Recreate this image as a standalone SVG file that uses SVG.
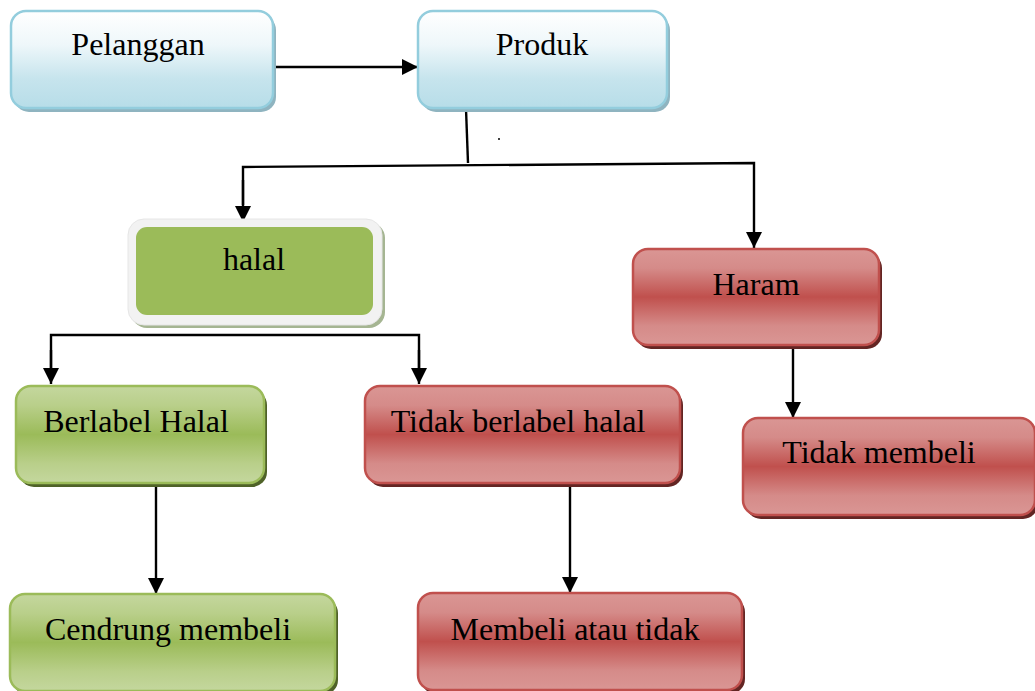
<svg xmlns="http://www.w3.org/2000/svg" width="1035" height="691" viewBox="0 0 1035 691">
  <defs>
    <linearGradient id="gBlue" x1="0" y1="0" x2="0" y2="1">
      <stop offset="0" stop-color="#ffffff"/>
      <stop offset="0.35" stop-color="#eef7fa"/>
      <stop offset="0.7" stop-color="#c6e4ed"/>
      <stop offset="1" stop-color="#b7dde8"/>
    </linearGradient>
    <linearGradient id="gGreen" x1="0" y1="0" x2="0" y2="1">
      <stop offset="0" stop-color="#c4d79e"/>
      <stop offset="0.2" stop-color="#b9cf8a"/>
      <stop offset="0.5" stop-color="#9bbb59"/>
      <stop offset="0.8" stop-color="#b9cf8a"/>
      <stop offset="1" stop-color="#c4d79e"/>
    </linearGradient>
    <linearGradient id="gRed" x1="0" y1="0" x2="0" y2="1">
      <stop offset="0" stop-color="#da9694"/>
      <stop offset="0.2" stop-color="#d58b89"/>
      <stop offset="0.5" stop-color="#c0504d"/>
      <stop offset="0.8" stop-color="#d58b89"/>
      <stop offset="1" stop-color="#da9694"/>
    </linearGradient>
    <marker id="arrow" viewBox="0 0 10 10" refX="10" refY="5" markerWidth="17" markerHeight="16" markerUnits="userSpaceOnUse" orient="auto">
      <path d="M0,0 L10,5 L0,10 Z" fill="#000"/>
    </marker>
  </defs>
  <style>
    text { font-family: "Liberation Serif", "Times New Roman", serif; font-size: 32px; fill: #000; text-anchor: middle; }
    .blue { fill: url(#gBlue); stroke: #93cddd; stroke-width: 2.5; }
    .blueShadow { fill: #8fb4c0; }
    .green { fill: url(#gGreen); stroke: #9bbb59; stroke-width: 2.5; }
    .greenShadow { fill: #4f6228; }
    .red { fill: url(#gRed); stroke: #c0504d; stroke-width: 2.5; }
    .redShadow { fill: #632523; }
    .conn { fill: none; stroke: #000; stroke-width: 2.4; }
  </style>

  <rect width="1035" height="691" fill="#ffffff"/>

  <!-- connectors -->
  <g id="connectors">
    <line class="conn" x1="274" y1="67" x2="418" y2="67" marker-end="url(#arrow)"/>
    <line class="conn" x1="466" y1="109" x2="468" y2="163"/>
    <polyline class="conn" points="243,205 243,167 754,163 754,248" marker-end="url(#arrow)"/>
    <line class="conn" x1="243" y1="180" x2="243" y2="222" marker-end="url(#arrow)"/>
    <polyline class="conn" points="51,370 51,335 419,335 419,370"/>
    <line class="conn" x1="51" y1="350" x2="51" y2="384" marker-end="url(#arrow)"/>
    <line class="conn" x1="419" y1="350" x2="419" y2="384" marker-end="url(#arrow)"/>
    <line class="conn" x1="793" y1="348" x2="793" y2="418" marker-end="url(#arrow)"/>
    <line class="conn" x1="156" y1="485" x2="156" y2="594" marker-end="url(#arrow)"/>
    <line class="conn" x1="570" y1="485" x2="570" y2="593" marker-end="url(#arrow)"/>
    <circle cx="499" cy="139" r="1" fill="#000"/>
  </g>

  <g id="pelanggan">
    <rect class="blueShadow" x="14" y="15" width="262" height="97" rx="15"/>
    <rect class="blue" x="11" y="11" width="262" height="97" rx="15"/>
    <text x="138" y="55">Pelanggan</text>
  </g>

  <g id="produk">
    <rect class="blueShadow" x="421" y="15" width="249" height="97" rx="15"/>
    <rect class="blue" x="418" y="11" width="249" height="97" rx="15"/>
    <text x="542" y="55">Produk</text>
  </g>

  <g id="halal">
    <rect x="131" y="222" width="254" height="106" rx="16" fill="#a5b592"/>
    <rect x="128" y="219" width="254" height="106" rx="16" fill="#f2f2f2" stroke="#e6e6e6" stroke-width="1"/>
    <rect x="136" y="227" width="237" height="88" rx="11" fill="#9bbb59"/>
    <text x="254" y="270">halal</text>
  </g>

  <g id="haram">
    <rect class="redShadow" x="636" y="253" width="246" height="96" rx="15"/>
    <rect class="red" x="633" y="249" width="246" height="96" rx="15"/>
    <text x="756" y="295">Haram</text>
  </g>

  <g id="berlabel-halal">
    <rect class="greenShadow" x="19" y="390" width="248" height="97" rx="15"/>
    <rect class="green" x="16" y="386" width="248" height="97" rx="15"/>
    <text x="136" y="432">Berlabel Halal</text>
  </g>

  <g id="tidak-berlabel-halal">
    <rect class="redShadow" x="368" y="390" width="315" height="97" rx="15"/>
    <rect class="red" x="365" y="386" width="315" height="97" rx="15"/>
    <text x="518" y="432">Tidak berlabel halal</text>
  </g>

  <g id="tidak-membeli">
    <rect class="redShadow" x="746" y="422" width="292" height="97" rx="15"/>
    <rect class="red" x="743" y="418" width="292" height="97" rx="15"/>
    <text x="879" y="463">Tidak membeli</text>
  </g>

  <g id="cendrung-membeli">
    <rect class="greenShadow" x="13" y="598" width="325" height="97" rx="15"/>
    <rect class="green" x="10" y="594" width="325" height="97" rx="15"/>
    <text x="168" y="640">Cendrung membeli</text>
  </g>

  <g id="membeli-atau-tidak">
    <rect class="redShadow" x="421" y="597" width="324" height="97" rx="15"/>
    <rect class="red" x="418" y="593" width="324" height="97" rx="15"/>
    <text x="575" y="640">Membeli atau tidak</text>
  </g>
</svg>
